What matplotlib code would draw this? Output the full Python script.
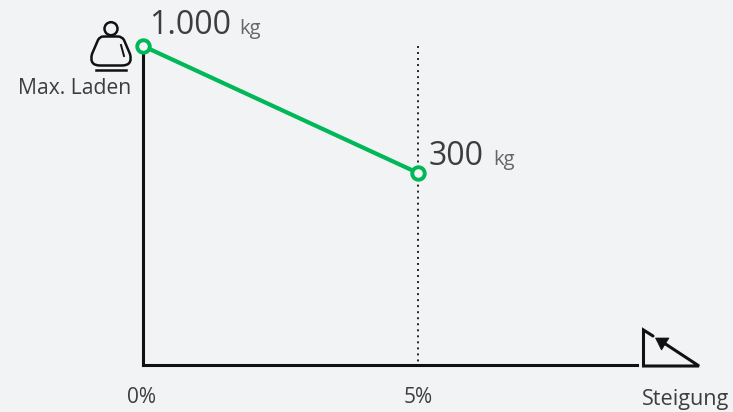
from matplotlib import pyplot as plt
from matplotlib.patches import Circle, PathPatch, Polygon
from matplotlib.path import Path

plt.rcParams['font.family'] = ['Open Sans', 'DejaVu Sans']

slope = [0, 5]
load = [1000, 300]
value_labels = ["1.000", "300"]
tick_labels = ["0%", "5%"]

BG = "#f2f3f5"
GREEN = "#00b857"
INK = "#111111"
TEXT = "#3d3d3d"

W, H = 733, 412
fig = plt.figure(figsize=(W / 100, H / 100), dpi=100, facecolor=BG)

# data axes: left edge at 0 %, bottom edge on the baseline
ax = fig.add_axes([143 / W, 1 - 365 / H, 494 / W, 319 / H], facecolor="none")
ax.set_xlim(0, 494 / 55)
ax.set_ylim(1000 - 319 / 0.1814, 1000)
for s in ["top", "right"]:
    ax.spines[s].set_visible(False)
for s in ["left", "bottom"]:
    ax.spines[s].set_linewidth(2.2)
    ax.spines[s].set_color(INK)
ax.set_xticks(slope)
ax.set_xticklabels([])
ax.set_yticks([])
ax.tick_params(length=0)

# drawn top-down so the dots start where the reference's do
ax.plot([slope[1], slope[1]], [load[0], ax.get_ylim()[0]], color="#222222", lw=1.4,
        ls=(0, (1, 2.1)), zorder=1)
ax.plot(slope, load, color=GREEN, lw=3, marker="o", ms=9, mfc=BG, mec=GREEN,
        mew=2.8, clip_on=False, zorder=5)

# overlay in pixel coordinates for icons and annotations
ov = fig.add_axes([0, 0, 1, 1], facecolor="none")
ov.set_xlim(0, W)
ov.set_ylim(H, 0)
ov.axis("off")

ov.text(149.5, 34, value_labels[0], fontsize=23, color=TEXT, va="baseline", ha="left")
ov.text(239.5, 34, "kg", fontsize=14.5, color="#666666", va="baseline", ha="left")
ov.text(429, 164.5, value_labels[1], fontsize=23, color=TEXT, va="baseline", ha="left")
ov.text(493, 164.5, "kg", fontsize=14.5, color="#666666", va="baseline", ha="left")
ov.text(18, 94, "Max. Laden", fontsize=15.2, color=TEXT, va="baseline", ha="left")
ov.text(642, 405, "Steigung", fontsize=15.6, color=TEXT, va="baseline", ha="left")
ov.text(141.5, 403, tick_labels[0], fontsize=15, color=TEXT, va="baseline", ha="center")
ov.text(418, 403, tick_labels[1], fontsize=15, color=TEXT, va="baseline", ha="center")

# weight icon
ov.add_patch(Circle((111, 28.7), 6.5, fc="none", ec=INK, lw=1.8))
body = Path(
    [(103, 36.5), (118, 36.5), (122, 36.5), (124, 40), (130, 54), (133, 65.5), (122, 65.5),
     (100, 65.5), (89, 65.5), (92, 54), (98, 40), (100, 36.5), (103, 36.5)],
    [Path.MOVETO, Path.LINETO, Path.CURVE3, Path.CURVE3, Path.LINETO, Path.CURVE3, Path.CURVE3,
     Path.LINETO, Path.CURVE3, Path.CURVE3, Path.LINETO, Path.CURVE3, Path.CURVE3],
)
ov.add_patch(PathPatch(body, fc="none", ec=INK, lw=1.8))
ov.plot([121, 124], [45, 56], color=INK, lw=1.4)
ov.plot([96, 126], [70, 70], color=INK, lw=1.8)

# slope icon
ov.plot([653, 643.5, 643.5, 699, 664], [336, 330, 366, 366, 343], color=INK, lw=2.2,
        solid_joinstyle="miter", solid_capstyle="round")
ov.add_patch(Polygon([(655.5, 338), (669, 338), (661.5, 350)], closed=True, fc=INK, ec=INK, lw=0.5))

fig.savefig("out.png", dpi=100, facecolor=BG)
